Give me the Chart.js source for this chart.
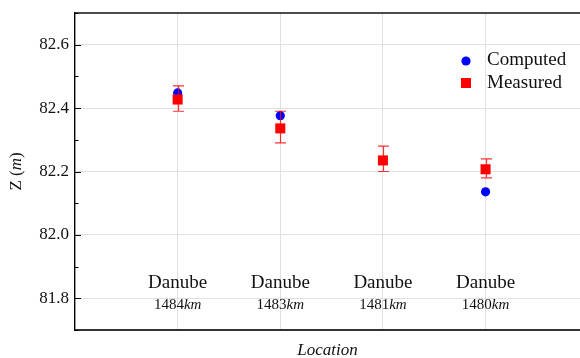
<!DOCTYPE html>
<html>
<head>
<meta charset="utf-8">
<script src="https://cdn.jsdelivr.net/npm/chart.js@4/dist/chart.umd.min.js"></script>
<style>
html, body { margin: 0; padding: 0; background: #fff; }
</style>
</head>
<body>
<canvas id="c" width="580" height="358"></canvas>
<script>
// data
var places = ["Danube", "Danube", "Danube", "Danube"];
var kms = [1484, 1483, 1481, 1480];
var computed = [82.448, 82.376, null, 82.136];
var measured = [82.427, 82.336, 82.235, 82.207];
var measuredLow = [82.39, 82.29, 82.20, 82.18];
var measuredHigh = [82.47, 82.39, 82.28, 82.24];
var yMajor = [81.8, 82.0, 82.2, 82.4, 82.6];

var SERIF = "'Liberation Serif', 'DejaVu Serif', serif";

function isMajor(v) {
	for (var i = 0; i < yMajor.length; i++) {
		if (Math.abs(yMajor[i] - v) < 1e-6) return true;
	}
	return false;
}

function pts(arr) {
	var out = [];
	for (var i = 0; i < arr.length; i++) {
		if (arr[i] !== null) out.push({x: i, y: arr[i]});
	}
	return out;
}

// frame, inward ticks, error bars, labels, legend
var decor = {
	id: "decor",
	beforeDatasetDraw: function(chart, args) {
		if (args.index !== 1) return;
		var ctx = chart.ctx, xs = chart.scales.x, ys = chart.scales.y;
		ctx.save();
		ctx.strokeStyle = "rgba(255,0,0,0.8)";
		ctx.lineWidth = 1.2;
		for (var i = 0; i < measured.length; i++) {
			var px = Math.round(xs.getPixelForValue(i)) + 0.5;
			var lo = ys.getPixelForValue(measuredLow[i]);
			var hi = ys.getPixelForValue(measuredHigh[i]);
			ctx.beginPath();
			ctx.moveTo(px, lo); ctx.lineTo(px, hi);
			ctx.moveTo(px - 5.5, lo); ctx.lineTo(px + 5.5, lo);
			ctx.moveTo(px - 5.5, hi); ctx.lineTo(px + 5.5, hi);
			ctx.stroke();
		}
		ctx.restore();
	},
	afterDraw: function(chart) {
		var ctx = chart.ctx, a = chart.chartArea, xs = chart.scales.x, ys = chart.scales.y;
		ctx.save();

		// top spine
		ctx.strokeStyle = "#111";
		ctx.lineWidth = 1.5;
		ctx.beginPath();
		ctx.moveTo(a.left, a.top); ctx.lineTo(a.right, a.top);
		ctx.stroke();

		// inward ticks on the left spine
		ctx.lineWidth = 1;
		ctx.strokeStyle = "#000";
		ys.ticks.forEach(function(t) {
			var py = Math.round(ys.getPixelForValue(t.value)) + 0.5;
			var len = isMajor(t.value) ? 6 : 3.5;
			ctx.beginPath();
			ctx.moveTo(a.left, py); ctx.lineTo(a.left + len, py);
			ctx.stroke();
		});

		// location labels inside the plot
		ctx.fillStyle = "#111";
		ctx.textBaseline = "middle";
		for (var i = 0; i < places.length; i++) {
			var px = xs.getPixelForValue(i);
			ctx.font = "19px " + SERIF;
			ctx.textAlign = "center";
			ctx.fillText(places[i], px, a.bottom - 47);

			var num = String(kms[i]);
			ctx.font = "15px " + SERIF;
			var w1 = ctx.measureText(num).width;
			ctx.font = "italic 15px " + SERIF;
			var w2 = ctx.measureText("km").width;
			var x0 = px - (w1 + w2) / 2;
			ctx.textAlign = "left";
			ctx.font = "15px " + SERIF;
			ctx.fillText(num, x0, a.bottom - 25);
			ctx.font = "italic 15px " + SERIF;
			ctx.fillText("km", x0 + w1, a.bottom - 25);
		}

		// x title
		ctx.font = "italic 17px " + SERIF;
		ctx.textAlign = "center";
		ctx.fillText("Location", (a.left + a.right) / 2, 351);

		// y title: Z (m)
		ctx.translate(17, (a.top + a.bottom) / 2);
		ctx.rotate(-Math.PI / 2);
		var parts = [["Z (", ""], ["m", "italic "], [")", ""]];
		var total = 0;
		parts.forEach(function(p) {
			ctx.font = p[1] + "17px " + SERIF;
			total += ctx.measureText(p[0]).width;
		});
		var cx = -total / 2;
		ctx.textAlign = "left";
		parts.forEach(function(p) {
			ctx.font = p[1] + "17px " + SERIF;
			ctx.fillText(p[0], cx, 0);
			cx += ctx.measureText(p[0]).width;
		});
		ctx.setTransform(1, 0, 0, 1, 0, 0);

		// legend
		var lx = a.right - 114;
		var ds = chart.data.datasets;
		ctx.fillStyle = ds[0].backgroundColor;
		ctx.beginPath();
		ctx.arc(lx, 61, 4.6, 0, Math.PI * 2);
		ctx.fill();
		ctx.fillStyle = ds[1].backgroundColor;
		ctx.fillRect(lx - 5, 78, 10, 10);
		ctx.fillStyle = "#111";
		ctx.font = "19px " + SERIF;
		ctx.textAlign = "left";
		ctx.textBaseline = "middle";
		ctx.fillText(ds[0].label, lx + 21, 60);
		ctx.fillText(ds[1].label, lx + 21, 83);

		ctx.restore();
	}
};

new Chart(document.getElementById("c"), {
	type: "scatter",
	data: {
		datasets: [
			{
				label: "Computed",
				data: pts(computed),
				backgroundColor: "#0000ff",
				borderColor: "#0000ff",
				borderWidth: 0,
				pointStyle: "circle",
				pointRadius: 4.6,
				order: 2
			},
			{
				label: "Measured",
				data: pts(measured),
				backgroundColor: "#ff0000",
				borderColor: "#ff0000",
				borderWidth: 0,
				pointStyle: "rect",
				pointRadius: 7.1,
				order: 1
			}
		]
	},
	options: {
		responsive: false,
		animation: false,
		devicePixelRatio: 1,
		layout: { autoPadding: false, padding: { top: 13, right: 0, bottom: 0, left: 0 } },
		plugins: {
			legend: { display: false },
			tooltip: { enabled: false }
		},
		scales: {
			x: {
				type: "linear",
				min: -1,
				max: 3.92,
				afterFit: function(s) { s.height = 28; s.paddingLeft = 0; s.paddingRight = 0; },
				ticks: { display: false, stepSize: 1, includeBounds: false },
				grid: { color: "#e0e0e0", lineWidth: 1, drawTicks: false },
				border: { color: "#333", width: 2 }
			},
			y: {
				min: 81.7,
				max: 82.7,
				afterFit: function(s) { s.width = 75; s.paddingTop = 0; s.paddingBottom = 0; },
				ticks: {
					stepSize: 0.05,
					padding: 6,
					color: "#111",
					font: { family: SERIF, size: 17 },
					callback: function(v) { return isMajor(v) ? v.toFixed(1) : ""; }
				},
				grid: {
					drawTicks: false,
					lineWidth: 1,
					color: function(c) { return c.tick && isMajor(c.tick.value) ? "#e0e0e0" : "rgba(0,0,0,0)"; }
				},
				border: { color: "#000", width: 1.3 }
			}
		}
	},
	plugins: [decor]
});
</script>
</body>
</html>
